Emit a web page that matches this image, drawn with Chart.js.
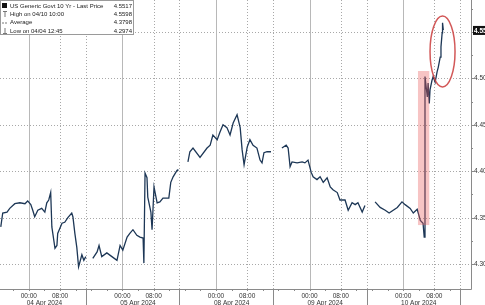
<!DOCTYPE html>
<html>
<head>
<meta charset="utf-8">
<script src="https://cdn.jsdelivr.net/npm/chart.js@4.4.1/dist/chart.umd.min.js"></script>
<style>
  html, body { margin: 0; padding: 0; background: #fff; }
  #chart { display: block; }
</style>
</head>
<body>
<canvas id="chart" width="485" height="305"></canvas>
<script>
// trading-time axis: 24 units per trading day, 0 = 04 Apr 2024 00:00 (weekend skipped)
const dayLabels = ['04 Apr 2024', '05 Apr 2024', '08 Apr 2024', '09 Apr 2024', '10 Apr 2024'];
const timeLabels = ['00:00', '08:00'];
const yTicks = [4.30, 4.35, 4.40, 4.45, 4.50, 4.55];

const hours = [
  -7.2, -6.7, -5.6, -4.9, -3.6, -2.3, -1.0, -0.3, 0.5, 1.0, 1.5, 2.3, 3.3, 4.1, 4.6, 5.1,
  5.6, 5.9, 6.7, 7.2, 7.4, 8.5, 9.2, 10.0, 11.0, 11.3, 11.8, 12.3, 12.75, 13.6, 14.1, 14.6,
  15.5,
  16.4, 17.5, 18.0, 18.7, 20.0, 21.3, 22.6, 23.4, 24.1, 25.2, 25.9, 26.7, 27.7, 28.5, 29.3, 29.5,
  29.8, 30.3, 30.5, 31.3, 31.6, 32.1, 32.9, 33.6, 34.4, 35.4, 35.9, 36.4, 37.0, 38.0, 38.2,
  39.5,
  40.8, 41.3, 42.1, 43.9, 45.7, 46.5, 47.2, 48.3, 49.0, 49.8, 50.8, 51.6, 52.4, 53.4, 54.2, 54.7,
  55.2, 56.0, 56.7, 57.5, 58.5, 59.3, 59.8, 60.3, 61.1, 62.1,
  63.5,
  64.9, 66.0, 66.5, 67.0, 67.5, 68.8, 70.1, 70.8, 71.6, 72.4, 72.9, 73.9, 74.7, 75.5, 76.5, 77.3,
  78.0, 79.1, 79.8, 81.1, 81.9, 82.9, 83.7, 84.4, 85.5, 86.2,
  87.5,
  88.8, 90.1, 91.4, 92.4, 94.5, 95.7, 96.5, 97.8, 98.6, 99.6, 100.4, 101.1, 101.4, 101.6, 102.2, 102.4,
  102.7, 102.9, 103.4, 103.7, 104.2, 104.7, 105.0, 105.5, 105.7, 106.0, 106.1, 106.3
];

const yields = [
  4.340, 4.355, 4.356, 4.360, 4.365, 4.366, 4.365, 4.368, 4.364, 4.358, 4.351, 4.358, 4.360, 4.356, 4.366, 4.369,
  4.377, 4.340, 4.317, 4.320, 4.333, 4.344, 4.345, 4.350, 4.355, 4.351, 4.333, 4.318, 4.297, 4.310, 4.304, 4.308,
  null,
  4.306, 4.313, 4.320, 4.308, 4.312, 4.308, 4.304, 4.320, 4.315, 4.329, 4.333, 4.337, 4.331, 4.329, 4.328, 4.301,
  4.398, 4.393, 4.372, 4.356, 4.337, 4.383, 4.366, 4.367, 4.371, 4.371, 4.371, 4.388, 4.394, 4.401, 4.402,
  null,
  4.410, 4.421, 4.425, 4.415, 4.425, 4.428, 4.439, 4.434, 4.442, 4.450, 4.447, 4.439, 4.452, 4.461, 4.447, 4.423,
  4.407, 4.426, 4.434, 4.428, 4.425, 4.412, 4.409, 4.420, 4.421, 4.421,
  null,
  4.425, 4.428, 4.425, 4.405, 4.410, 4.409, 4.410, 4.409, 4.412, 4.399, 4.394, 4.391, 4.394, 4.388, 4.393, 4.383,
  4.380, 4.377, 4.369, 4.369, 4.358, 4.366, 4.364, 4.366, 4.356, 4.363,
  null,
  4.367, 4.361, 4.358, 4.355, 4.361, 4.367, 4.364, 4.360, 4.355, 4.359, 4.347, 4.344, 4.329, 4.502, 4.480, 4.495,
  4.473, 4.488, 4.498, 4.502, 4.496, 4.507, 4.512, 4.523, 4.534, 4.549, 4.560, 4.552
];

const legendRows = [
  ['US Generic Govt 10 Yr - Last Price', '4.5517'],
  ['High on 04/10 10:00', '4.5598'],
  ['Average', '4.3798'],
  ['Low on 04/04 12:45', '4.2974']
];
const lastPrice = 4.5517;
// highlighted CPI jump window and circled run-up
const boxHours = [99.8, 102.7];
const boxYields = [4.342, 4.508];
const circleCenter = [106.1, 4.529];

const points = hours.map((h, i) => ({ x: h, y: yields[i] }));
const FONT = '"Liberation Sans", Arial, sans-serif';

const decor = {
  id: 'decor',
  beforeDatasetsDraw(chart) {
    const { ctx, chartArea: a, scales: { x, y } } = chart;
    ctx.save();
    ctx.lineWidth = 1;
    // horizontal dotted grid
    ctx.strokeStyle = '#a8a8a8';
    ctx.setLineDash([1, 2]);
    yTicks.forEach(v => {
      const py = Math.round(y.getPixelForValue(v)) + 0.5;
      ctx.beginPath(); ctx.moveTo(a.left, py); ctx.lineTo(a.right, py); ctx.stroke();
    });
    // vertical grid
    dayLabels.forEach((d, i) => {
      const h0 = i * 24;
      ctx.setLineDash([1, 2]);
      ctx.strokeStyle = '#a8a8a8';
      [h0 + 8, h0 + 14.6, h0 - 9.4].forEach(h => {
        const px = Math.round(x.getPixelForValue(h)) + 0.5;
        if (px < a.left || px > a.right) return;
        ctx.beginPath(); ctx.moveTo(px, a.top); ctx.lineTo(px, a.bottom); ctx.stroke();
      });
      ctx.setLineDash([]);
      ctx.strokeStyle = '#b8b8b8';
      const px = Math.round(x.getPixelForValue(h0)) + 0.5;
      ctx.beginPath(); ctx.moveTo(px, a.top); ctx.lineTo(px, a.bottom); ctx.stroke();
    });
    ctx.restore();
  },
  afterDatasetsDraw(chart) {
    const { ctx, chartArea: a, scales: { x, y } } = chart;
    ctx.save();
    // pink highlight box
    const bx0 = x.getPixelForValue(boxHours[0]), bx1 = x.getPixelForValue(boxHours[1]);
    const by0 = y.getPixelForValue(boxYields[1]), by1 = y.getPixelForValue(boxYields[0]);
    ctx.fillStyle = 'rgba(232, 85, 85, 0.35)';
    ctx.fillRect(bx0, by0, bx1 - bx0, by1 - by0);
    // red ellipse
    ctx.strokeStyle = 'rgba(205, 70, 70, 0.9)';
    ctx.lineWidth = 1.5;
    ctx.beginPath();
    ctx.ellipse(x.getPixelForValue(circleCenter[0]), y.getPixelForValue(circleCenter[1]), 12.5, 35.5, 0, 0, Math.PI * 2);
    ctx.stroke();

    // axis lines
    ctx.strokeStyle = '#8a8a8a';
    ctx.lineWidth = 1;
    ctx.beginPath();
    ctx.moveTo(a.left, a.bottom + 0.5); ctx.lineTo(a.right + 0.5, a.bottom + 0.5);
    ctx.moveTo(a.right + 0.5, a.top); ctx.lineTo(a.right + 0.5, a.bottom + 0.5);
    ctx.stroke();

    // y ticks & labels
    ctx.fillStyle = '#333';
    ctx.font = '6.5px ' + FONT;
    ctx.textBaseline = 'middle';
    ctx.textAlign = 'left';
    yTicks.forEach(v => {
      const py = Math.round(y.getPixelForValue(v)) + 0.5;
      ctx.beginPath(); ctx.moveTo(a.right, py); ctx.lineTo(a.right + 3, py); ctx.stroke();
      ctx.fillText(v.toFixed(2), a.right + 3, py);
      const pm = Math.round(y.getPixelForValue(v + 0.025)) + 0.5;
      if (pm > a.top) { ctx.beginPath(); ctx.moveTo(a.right, pm); ctx.lineTo(a.right + 2, pm); ctx.stroke(); }
    });
    // last price tag
    const lp = y.getPixelForValue(lastPrice);
    ctx.fillStyle = '#111';
    ctx.fillRect(a.right + 2, lp - 4.5, 20, 9);
    ctx.fillStyle = '#fff';
    ctx.font = 'bold 6.5px ' + FONT;
    ctx.fillText(lastPrice.toFixed(4), a.right + 3, lp + 0.5);

    // x labels
    ctx.fillStyle = '#333';
    ctx.font = '6.5px ' + FONT;
    ctx.textAlign = 'center';
    ctx.textBaseline = 'alphabetic';
    dayLabels.forEach((d, i) => {
      const h0 = i * 24;
      [0, 8].forEach((h, j) => {
        ctx.fillText(timeLabels[j], x.getPixelForValue(h0 + h), a.bottom + 9);
      });
      ctx.fillText(d, x.getPixelForValue(h0 + 4), a.bottom + 16);
      const sx = Math.round(x.getPixelForValue(h0 + 14.6)) + 0.5;
      ctx.beginPath(); ctx.moveTo(sx, a.bottom); ctx.lineTo(sx, chart.height); ctx.stroke();
      for (let t = -8; t <= 12; t += 4) {
        const tx = Math.round(x.getPixelForValue(h0 + t)) + 0.5;
        if (tx < a.left || tx > a.right) continue;
        ctx.beginPath(); ctx.moveTo(tx, a.bottom); ctx.lineTo(tx, a.bottom + 2); ctx.stroke();
      }
    });

    // legend box
    ctx.fillStyle = '#fff';
    ctx.fillRect(0, 0, 134, 35);
    ctx.strokeStyle = '#9a9a9a';
    ctx.strokeRect(0.5, 0.5, 133, 34);
    ctx.font = '6px ' + FONT;
    ctx.textBaseline = 'middle';
    legendRows.forEach((r, i) => {
      const ry = 6 + i * 8.3;
      ctx.fillStyle = '#222';
      ctx.textAlign = 'left';
      ctx.fillText(r[0], 10, ry);
      ctx.textAlign = 'right';
      ctx.fillText(r[1], 132, ry);
    });
    ctx.fillStyle = '#111';
    ctx.fillRect(2, 3, 5, 5);
    ctx.strokeStyle = '#777';
    ctx.beginPath();
    // high marker
    ctx.moveTo(3, 11.5); ctx.lineTo(7, 11.5); ctx.moveTo(5, 11.5); ctx.lineTo(5, 17);
    // average marker
    ctx.moveTo(2, 23); ctx.lineTo(4, 23); ctx.moveTo(5, 23); ctx.lineTo(7, 23);
    // low marker
    ctx.moveTo(5, 28); ctx.lineTo(5, 33.5); ctx.moveTo(3, 33.5); ctx.lineTo(7, 33.5);
    ctx.stroke();
    ctx.restore();
  }
};

new Chart(document.querySelector('#chart'), {
  type: 'line',
  data: {
    datasets: [{
      data: points,
      borderColor: '#1d3756',
      borderWidth: 1.3,
      pointRadius: 0,
      tension: 0,
      spanGaps: false
    }]
  },
  options: {
    responsive: false,
    animation: false,
    devicePixelRatio: 1,
    layout: { padding: 0 },
    plugins: { legend: { display: false }, tooltip: { enabled: false } },
    scales: {
      x: {
        type: 'linear', min: -7.4, max: 113.4,
        ticks: { display: false }, grid: { display: false }, border: { display: false },
        afterFit(s) { s.height = 16; }
      },
      y: {
        position: 'right', min: 4.2731, max: 4.5845,
        ticks: { display: false }, grid: { display: false }, border: { display: false },
        afterFit(s) { s.width = 14; }
      }
    }
  },
  plugins: [decor]
});
</script>
</body>
</html>
